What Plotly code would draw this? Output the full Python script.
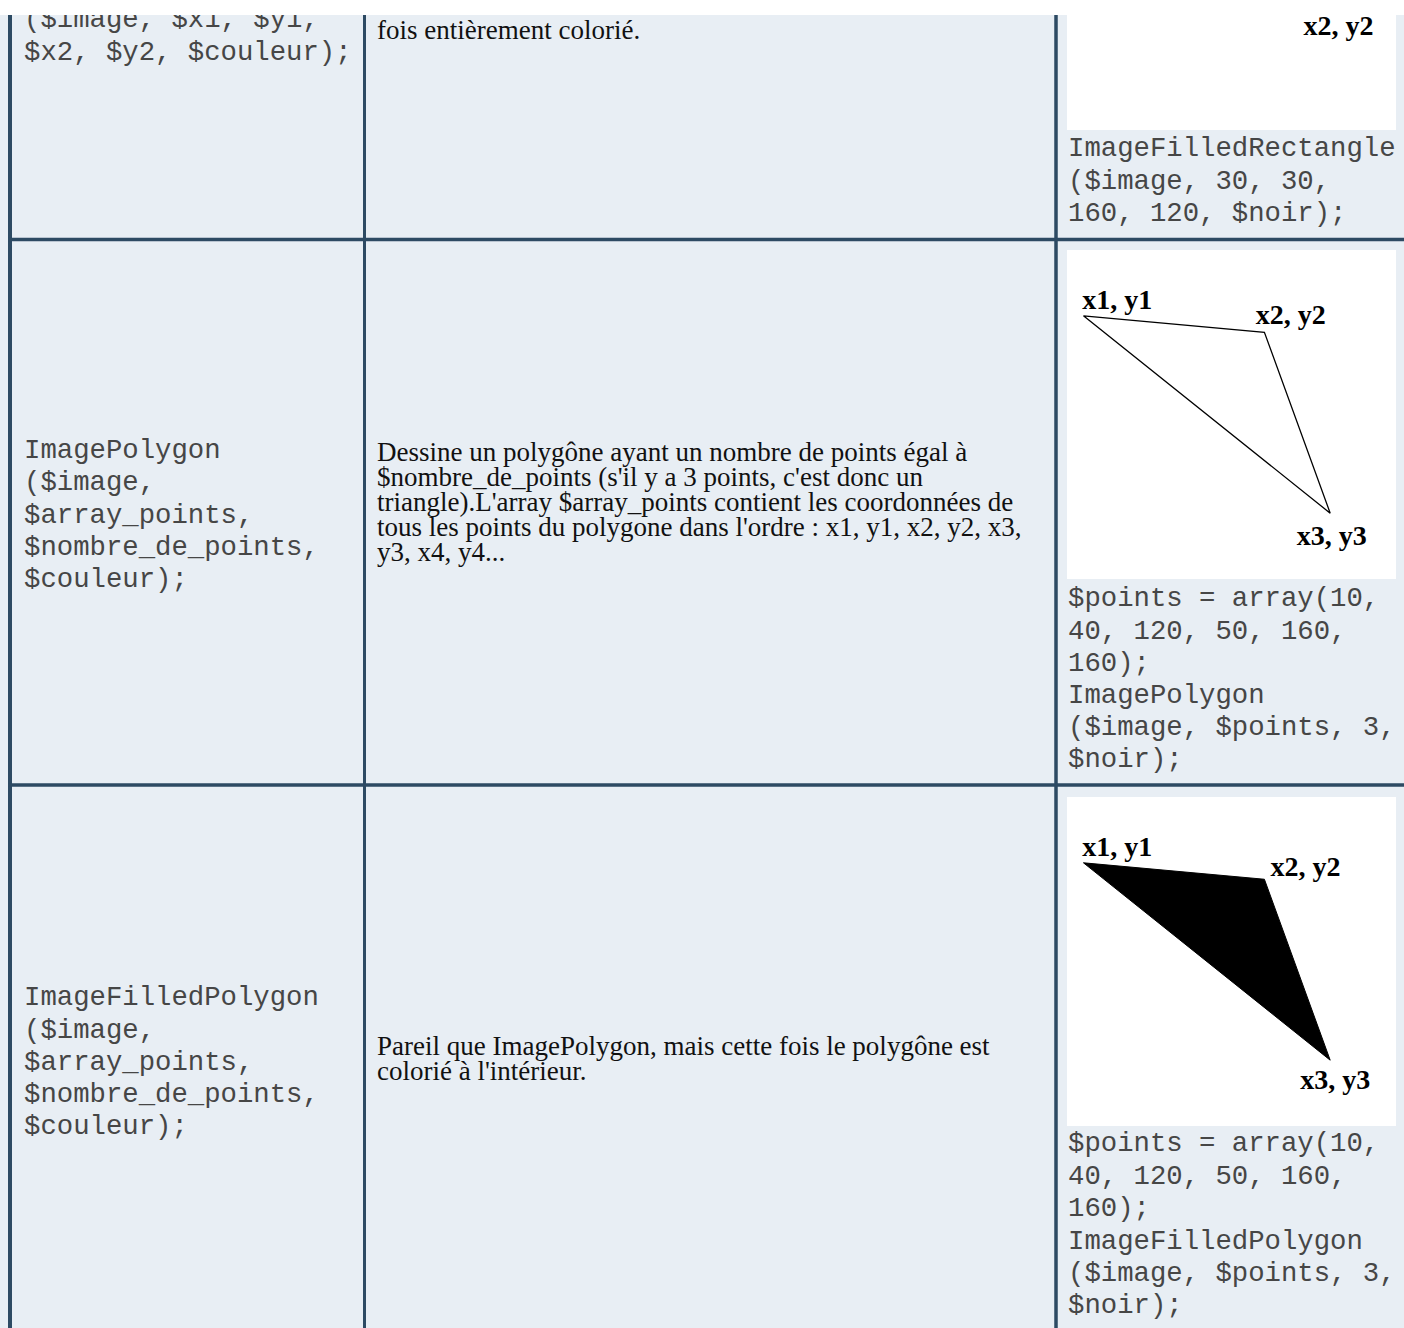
import plotly.graph_objects as go

# ---------------- data ----------------
left_row1 = ["($image, $x1, $y1,", "$x2, $y2, $couleur);"]
mid_row1 = ["fois entièrement colorié."]
right_row1 = ["ImageFilledRectangle", "($image, 30, 30,", "160, 120, $noir);"]

left_row2 = ["ImagePolygon", "($image,", "$array_points,", "$nombre_de_points,", "$couleur);"]
mid_row2 = [
    "Dessine un polygône ayant un nombre de points égal à",
    "$nombre_de_points (s'il y a 3 points, c'est donc un",
    "triangle).L'array $array_points contient les coordonnées de",
    "tous les points du polygone dans l'ordre : x1, y1, x2, y2, x3,",
    "y3, x4, y4...",
]
right_row2 = ["$points = array(10,", "40, 120, 50, 160,", "160);", "ImagePolygon",
              "($image, $points, 3,", "$noir);"]

left_row3 = ["ImageFilledPolygon", "($image,", "$array_points,", "$nombre_de_points,", "$couleur);"]
mid_row3 = ["Pareil que ImagePolygon, mais cette fois le polygône est",
            "colorié à l'intérieur."]
right_row3 = ["$points = array(10,", "40, 120, 50, 160,", "160);", "ImageFilledPolygon",
              "($image, $points, 3,", "$noir);"]

rect_coords = [30, 30, 160, 120]              # x1, y1, x2, y2
polygon_points = [10, 40, 120, 50, 160, 160]  # x1, y1, x2, y2, x3, y3
vertex_labels = ["x1, y1", "x2, y2", "x3, y3"]

# ---------------- layout constants ----------------
W, H = 1404, 1328
TOP = 15
BG = "#e8eef4"
BORDER = "#2d4a63"
MONO = "Liberation Mono, Courier New, monospace"
SERIF = "Liberation Serif, Times New Roman, serif"
MONO_SIZE = 27.3
SERIF_SIZE = 27
MONO_COLOR = "#464646"
SERIF_COLOR = "#111111"
ADJ = 2.5  # anchor offset so that glyphs are centred on the wanted line centre

IMG_X0, IMG_X1 = 1067, 1396
IMG_UNITS = 200
IMG_SCALE = (IMG_X1 - IMG_X0) / IMG_UNITS

# label anchor positions inside the images (image units)
lab_pos_row1 = [(165, 138)]
lab_pos_row2 = [(30.5, 31.5), (136, 41), (161, 175)]
lab_pos_row3 = [(30.5, 31.5), (145, 43.5), (163, 173)]

fig = go.Figure()


def add_lines(lines, x, center0, step, family, size, color):
    ys = [center0 + ADJ + i * step for i in range(len(lines))]
    fig.add_trace(go.Scatter(
        x=[x] * len(lines), y=ys, text=lines, mode="text",
        textposition="middle right",
        textfont=dict(family=family, size=size, color=color),
        hoverinfo="skip", showlegend=False, xaxis="x", yaxis="y",
        cliponaxis=True))


LX, MX, RX = 24, 377, 1068

add_lines(left_row1, LX, 18, 32.3, MONO, MONO_SIZE, MONO_COLOR)
add_lines(mid_row1, MX, 30, 25, SERIF, SERIF_SIZE, SERIF_COLOR)
add_lines(right_row1, RX, 147, 32.5, MONO, MONO_SIZE, MONO_COLOR)

add_lines(left_row2, LX, 449, 32.1, MONO, MONO_SIZE, MONO_COLOR)
add_lines(mid_row2, MX, 452, 25, SERIF, SERIF_SIZE, SERIF_COLOR)
add_lines(right_row2, RX, 597, 32.2, MONO, MONO_SIZE, MONO_COLOR)

add_lines(left_row3, LX, 996, 32.2, MONO, MONO_SIZE, MONO_COLOR)
add_lines(mid_row3, MX, 1046, 25, SERIF, SERIF_SIZE, SERIF_COLOR)
add_lines(right_row3, RX, 1142, 32.4, MONO, MONO_SIZE, MONO_COLOR)


# ---------------- image subplots ----------------
def ydom(top_px, bot_px):
    span = H - TOP
    return [1 - (bot_px - TOP) / span, 1 - (top_px - TOP) / span]


xdom = [IMG_X0 / W, IMG_X1 / W]
img1_top = 130 - IMG_UNITS * IMG_SCALE
img1_visible_from = (TOP - img1_top) / IMG_SCALE

images = [
    ("2", TOP, 130, [IMG_UNITS, img1_visible_from]),
    ("3", 250, 250 + IMG_UNITS * IMG_SCALE, [IMG_UNITS, 0]),
    ("4", 797, 797 + IMG_UNITS * IMG_SCALE, [IMG_UNITS, 0]),
]

layout_axes = {}
for suf, t, b, yr in images:
    layout_axes["xaxis" + suf] = dict(domain=xdom, range=[0, IMG_UNITS], visible=False,
                                      fixedrange=True, anchor="y" + suf)
    layout_axes["yaxis" + suf] = dict(domain=ydom(t, b), range=yr, visible=False,
                                      fixedrange=True, anchor="x" + suf)
    # white canvas of the picture
    fig.add_trace(go.Scatter(x=[0, IMG_UNITS, IMG_UNITS, 0, 0],
                             y=[0, 0, IMG_UNITS, IMG_UNITS, 0],
                             mode="lines", fill="toself", fillcolor="white",
                             line=dict(width=0, color="white"),
                             xaxis="x" + suf, yaxis="y" + suf,
                             hoverinfo="skip", showlegend=False))

# row 1: filled rectangle (mostly scrolled off the top)
rx = [rect_coords[0], rect_coords[2], rect_coords[2], rect_coords[0], rect_coords[0]]
ry = [rect_coords[1], rect_coords[1], rect_coords[3], rect_coords[3], rect_coords[1]]
fig.add_trace(go.Scatter(x=rx, y=ry, mode="lines", fill="toself", fillcolor="black",
                         line=dict(color="black", width=1), xaxis="x2", yaxis="y2",
                         hoverinfo="skip", showlegend=False))

px = polygon_points[0::2] + polygon_points[0:1]
py = polygon_points[1::2] + polygon_points[1:2]
# row 2: polygon outline
fig.add_trace(go.Scatter(x=px, y=py, mode="lines", line=dict(color="black", width=1.3),
                         xaxis="x3", yaxis="y3", hoverinfo="skip", showlegend=False))
# row 3: filled polygon
fig.add_trace(go.Scatter(x=px, y=py, mode="lines", fill="toself", fillcolor="black",
                         line=dict(color="black", width=1), xaxis="x4", yaxis="y4",
                         hoverinfo="skip", showlegend=False))

LABEL_FONT = dict(family=SERIF, size=28, color="black", weight="bold")
for suf, pos, labs in [("2", lab_pos_row1, vertex_labels[1:2]),
                       ("3", lab_pos_row2, vertex_labels),
                       ("4", lab_pos_row3, vertex_labels)]:
    fig.add_trace(go.Scatter(x=[p[0] for p in pos], y=[p[1] for p in pos], text=labs,
                             mode="text", textposition="middle center", textfont=LABEL_FONT,
                             xaxis="x" + suf, yaxis="y" + suf, hoverinfo="skip",
                             showlegend=False))


# ---------------- table borders ----------------
def vline(x, w):
    return dict(type="line", xref="x", yref="y", x0=x, x1=x, y0=TOP, y1=H,
                line=dict(color=BORDER, width=w), layer="above")


def hline(y, w):
    return dict(type="line", xref="x", yref="y", x0=8, x1=W, y0=y, y1=y,
                line=dict(color=BORDER, width=w), layer="above")


shapes = [vline(10, 4), vline(364.5, 3), vline(1056, 3.5), hline(239.5, 3.5), hline(785, 3.5)]
# white strip above the table
shapes.append(dict(type="rect", xref="paper", yref="paper", x0=-0.01, x1=1.01,
                   y0=1, y1=1 + (TOP + 2) / (H - TOP), fillcolor="white",
                   line=dict(width=0), layer="above"))

fig.update_layout(
    width=W, height=H,
    margin=dict(l=0, r=0, t=TOP, b=0, pad=0),
    paper_bgcolor=BG, plot_bgcolor="rgba(0,0,0,0)",
    xaxis=dict(domain=[0, 1], range=[0, W], visible=False, fixedrange=True),
    yaxis=dict(domain=[0, 1], range=[H, TOP], visible=False, fixedrange=True),
    shapes=shapes, showlegend=False,
    **layout_axes,
)

fig.write_html("out.html", config={"displayModeBar": False},
               post_script="document.body.style.margin='0';document.body.style.overflow='hidden';")
